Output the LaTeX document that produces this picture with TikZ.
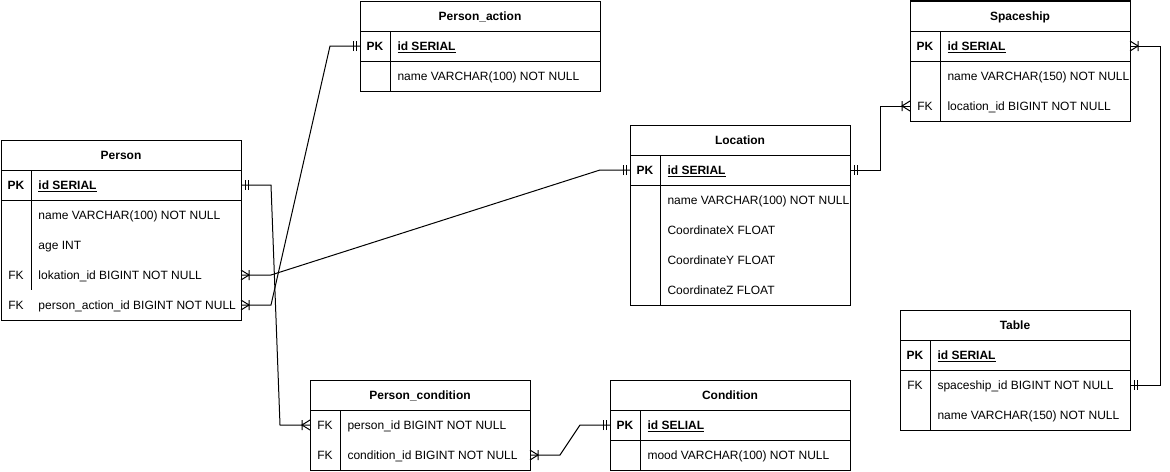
\documentclass[tikz,border=0pt]{standalone}
\usepackage{fontspec}
\setmainfont{Liberation Sans}
\usetikzlibrary{calc}
\newcommand*{\px}{0.75pt}
\newcommand*{\pk}[1]{\textbf{\underline{#1}}}

% crow's foot ends
\pgfdeclarearrow{
  name = ERmandOne,
  setup code = {
    \pgfarrowssettipend{0pt}
    \pgfarrowssetlineend{0pt}
    \pgfarrowssetbackend{-6pt}
    \pgfarrowssetvisualbackend{-6pt}
    \pgfarrowsupperhullpoint{-6pt}{4pt}
    \pgfarrowsupperhullpoint{0pt}{4pt}
  },
  drawing code = {
    \pgfsetdash{}{0pt}
    \pgfpathmoveto{\pgfpoint{-3pt}{-3.75pt}}
    \pgfpathlineto{\pgfpoint{-3pt}{3.75pt}}
    \pgfpathmoveto{\pgfpoint{-5.25pt}{-3.75pt}}
    \pgfpathlineto{\pgfpoint{-5.25pt}{3.75pt}}
    \pgfusepathqstroke
  }
}
\pgfdeclarearrow{
  name = ERmany,
  setup code = {
    \pgfarrowssettipend{0pt}
    \pgfarrowssetlineend{0pt}
    \pgfarrowssetbackend{-6pt}
    \pgfarrowssetvisualbackend{-6pt}
    \pgfarrowsupperhullpoint{-6pt}{4pt}
    \pgfarrowsupperhullpoint{0pt}{4pt}
  },
  drawing code = {
    \pgfsetdash{}{0pt}
    \pgfpathmoveto{\pgfpoint{0pt}{3.75pt}}
    \pgfpathlineto{\pgfpoint{-6pt}{0pt}}
    \pgfpathlineto{\pgfpoint{0pt}{-3.75pt}}
    \pgfpathmoveto{\pgfpoint{-6pt}{3.75pt}}
    \pgfpathlineto{\pgfpoint{-6pt}{-3.75pt}}
    \pgfusepathqstroke
  }
}

\tikzset{
  every node/.style={font=\fontsize{9}{11}\selectfont},
  tbl/.style={draw, anchor=north west, inner sep=0pt, outer sep=0pt},
  row/.style={anchor=north west, minimum height=30*\px, inner sep=0pt, outer sep=0pt},
  hdr/.style={font=\fontsize{9}{11}\selectfont\bfseries, inner sep=0pt,
    text height=1.5ex, text depth=.25ex},
  key/.style={inner sep=0pt, text height=1.5ex, text depth=.25ex},
  fld/.style={anchor=west, inner sep=0pt, text height=1.5ex, text depth=.25ex}
}

\begin{document}
\begin{tikzpicture}[x=0.75pt,y=-0.75pt,line width=\px]
\useasboundingbox (0,0) rectangle (1170,471);

% Person_action
\node[tbl, minimum width=240*\px, minimum height=90*\px] (pact) at (360,1) {};
\node[hdr] (pact-h) at (480,16) {Person\_action};
\draw (360,31) -- (600,31) (360,61) -- (600,61) (390,31) -- (390,91);
\foreach \n/\k/\t [count=\i from 0] in {id/\textbf{PK}/\pk{id SERIAL},
    name//name VARCHAR(100) NOT NULL} {
  \node[row, minimum width=240*\px] (pact-\n) at (360,{31+30*\i}) {};
  \node[key] (pact-\n-k) at (375,{46+30*\i}) {\k};
  \node[fld] (pact-\n-f) at (397,{46+30*\i}) {\t};
}

% Person
\node[tbl, minimum width=240*\px, minimum height=180*\px] (person) at (1,140) {};
\node[hdr] (person-h) at (121,155) {Person};
\draw (1,170) -- (241,170) (1,200) -- (241,200) (31,170) -- (31,290);
\foreach \n/\k/\t [count=\i from 0] in {id/\textbf{PK}/\pk{id SERIAL},
    name//name VARCHAR(100) NOT NULL, age//age INT,
    lok/FK/lokation\_id BIGINT NOT NULL,
    act/FK/person\_action\_id BIGINT NOT NULL} {
  \node[row, minimum width=240*\px] (person-\n) at (1,{170+30*\i}) {};
  \node[key] (person-\n-k) at (16,{185+30*\i}) {\k};
  \node[fld] (person-\n-f) at (38,{185+30*\i}) {\t};
}

% Location
\node[tbl, minimum width=220*\px, minimum height=180*\px] (loc) at (630,125) {};
\node[hdr] (loc-h) at (740,140) {Location};
\draw (630,155) -- (850,155) (630,185) -- (850,185) (660,155) -- (660,305);
\foreach \n/\k/\t [count=\i from 0] in {id/\textbf{PK}/\pk{id SERIAL},
    name//name VARCHAR(100) NOT NULL, cx//CoordinateX FLOAT,
    cy//CoordinateY FLOAT, cz//CoordinateZ FLOAT} {
  \node[row, minimum width=220*\px] (loc-\n) at (630,{155+30*\i}) {};
  \node[key] (loc-\n-k) at (645,{170+30*\i}) {\k};
  \node[fld] (loc-\n-f) at (667,{170+30*\i}) {\t};
}

% Spaceship
\node[tbl, minimum width=220*\px, minimum height=120*\px] (ship) at (910,1) {};
\node[hdr] (ship-h) at (1020,16) {Spaceship};
\draw (910,31) -- (1130,31) (910,61) -- (1130,61) (940,31) -- (940,121);
\foreach \n/\k/\t [count=\i from 0] in {id/\textbf{PK}/\pk{id SERIAL},
    name//name VARCHAR(150) NOT NULL, loc/FK/location\_id BIGINT NOT NULL} {
  \node[row, minimum width=220*\px] (ship-\n) at (910,{31+30*\i}) {};
  \node[key] (ship-\n-k) at (925,{46+30*\i}) {\k};
  \node[fld] (ship-\n-f) at (947,{46+30*\i}) {\t};
}

% Table
\node[tbl, minimum width=230*\px, minimum height=120*\px] (tab) at (900,310) {};
\node[hdr] (tab-h) at (1015,325) {Table};
\draw (900,340) -- (1130,340) (900,370) -- (1130,370) (930,340) -- (930,430);
\foreach \n/\k/\t [count=\i from 0] in {id/\textbf{PK}/\pk{id SERIAL},
    sid/FK/spaceship\_id BIGINT NOT NULL, name//name VARCHAR(150) NOT NULL} {
  \node[row, minimum width=230*\px] (tab-\n) at (900,{340+30*\i}) {};
  \node[key] (tab-\n-k) at (915,{355+30*\i}) {\k};
  \node[fld] (tab-\n-f) at (937,{355+30*\i}) {\t};
}

% Person_condition
\node[tbl, minimum width=220*\px, minimum height=90*\px] (pcond) at (310,380) {};
\node[hdr] (pcond-h) at (420,395) {Person\_condition};
\draw (310,410) -- (530,410) (340,410) -- (340,470);
\foreach \n/\k/\t [count=\i from 0] in {pid/FK/person\_id BIGINT NOT NULL,
    cid/FK/condition\_id BIGINT NOT NULL} {
  \node[row, minimum width=220*\px] (pcond-\n) at (310,{410+30*\i}) {};
  \node[key] (pcond-\n-k) at (325,{425+30*\i}) {\k};
  \node[fld] (pcond-\n-f) at (347,{425+30*\i}) {\t};
}

% Condition
\node[tbl, minimum width=240*\px, minimum height=90*\px] (cond) at (610,380) {};
\node[hdr] (cond-h) at (730,395) {Condition};
\draw (610,410) -- (850,410) (610,440) -- (850,440) (640,410) -- (640,470);
\foreach \n/\k/\t [count=\i from 0] in {id/\textbf{PK}/\pk{id SELIAL},
    mood//mood VARCHAR(100) NOT NULL} {
  \node[row, minimum width=240*\px] (cond-\n) at (610,{410+30*\i}) {};
  \node[key] (cond-\n-k) at (625,{425+30*\i}) {\k};
  \node[fld] (cond-\n-f) at (647,{425+30*\i}) {\t};
}

% relations
\draw[arrows={ERmandOne-ERmany}] (person-id.east) -- ++(30,0)
  -- ($(pcond-pid.west)+(-30,0)$) -- (pcond-pid.west);
\draw[arrows={ERmany-ERmandOne}] (person-lok.east) -- ++(30,0)
  -- ($(loc-id.west)+(-30,0)$) -- (loc-id.west);
\draw[arrows={ERmany-ERmandOne}] (person-act.east) -- ++(30,0)
  -- ($(pact-id.west)+(-30,0)$) -- (pact-id.west);
\draw[arrows={ERmandOne-ERmany}] (loc-id.east) -- ++(30,0) |- (ship-loc.west);
\draw[arrows={ERmany-ERmandOne}] (ship-id.east) -- ++(30,0) |- (tab-sid.east);
\draw[arrows={ERmany-ERmandOne}] (pcond-cid.east) -- ++(30,0)
  -- ($(cond-id.west)+(-30,0)$) -- (cond-id.west);
\end{tikzpicture}
\end{document}
